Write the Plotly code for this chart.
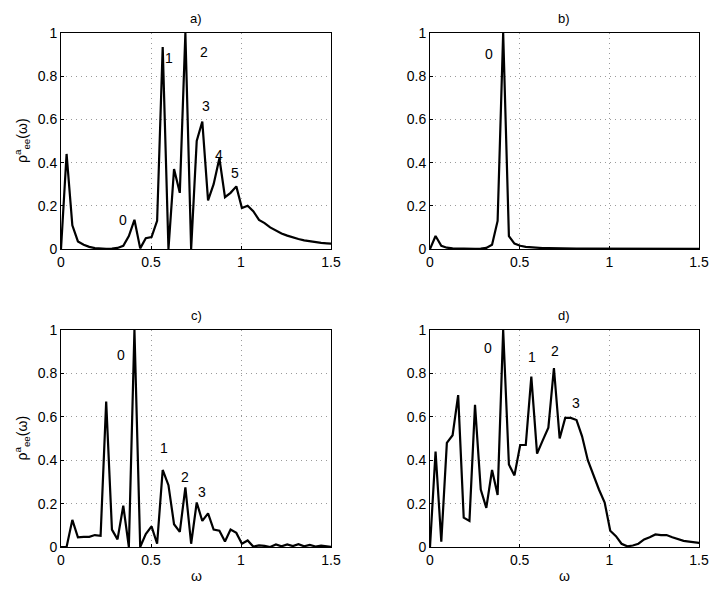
import plotly.graph_objects as go

# omega grid (same for all four panels)
omega = [0.000, 0.031, 0.063, 0.094, 0.126, 0.157, 0.188, 0.220, 0.251, 0.283,
         0.314, 0.346, 0.377, 0.408, 0.440, 0.471, 0.503, 0.534, 0.565, 0.597,
         0.628, 0.660, 0.691, 0.723, 0.754, 0.785, 0.817, 0.848, 0.880, 0.911,
         0.942, 0.974, 1.005, 1.037, 1.068, 1.100, 1.131, 1.162, 1.194, 1.225,
         1.257, 1.288, 1.319, 1.351, 1.382, 1.414, 1.445, 1.477, 1.508]

rho_a = [0.0, 0.44, 0.11, 0.035, 0.02, 0.01, 0.004, 0.002, 0.001, 0.002,
         0.005, 0.015, 0.06, 0.135, 0.003, 0.05, 0.055, 0.13, 0.935, 0.0,
         0.37, 0.26, 1.0, 0.0, 0.5, 0.59, 0.225, 0.3, 0.42, 0.24,
         0.26, 0.29, 0.19, 0.2, 0.175, 0.135, 0.12, 0.1, 0.085, 0.072,
         0.062, 0.053, 0.046, 0.04, 0.035, 0.031, 0.028, 0.026, 0.024]

rho_b = [0.0, 0.06, 0.015, 0.006, 0.003, 0.002, 0.001, 0.001, 0.001, 0.002,
         0.005, 0.02, 0.13, 1.0, 0.06, 0.025, 0.015, 0.01, 0.007, 0.005,
         0.004, 0.004, 0.003, 0.003, 0.003, 0.002, 0.002, 0.002, 0.002, 0.002,
         0.002, 0.002, 0.001, 0.001, 0.001, 0.001, 0.001, 0.001, 0.001, 0.001,
         0.001, 0.001, 0.001, 0.001, 0.001, 0.001, 0.001, 0.001, 0.001]

rho_c = [0.0, 0.0, 0.125, 0.045, 0.047, 0.047, 0.055, 0.052, 0.67, 0.08,
         0.035, 0.19, 0.0, 1.0, 0.0, 0.06, 0.095, 0.015, 0.355, 0.285,
         0.105, 0.07, 0.275, 0.015, 0.205, 0.12, 0.155, 0.08, 0.075, 0.025,
         0.08, 0.065, 0.015, 0.03, 0.002, 0.007, 0.005, 0.0, 0.012, 0.003,
         0.012, 0.004, 0.013, 0.003, 0.01, 0.002, 0.006, 0.004, 0.0]

rho_d = [0.0, 0.44, 0.025, 0.48, 0.515, 0.7, 0.135, 0.12, 0.655, 0.265,
         0.18, 0.355, 0.24, 1.0, 0.38, 0.33, 0.47, 0.47, 0.785, 0.43,
         0.49, 0.55, 0.825, 0.5, 0.595, 0.595, 0.585, 0.51, 0.4, 0.33,
         0.265, 0.205, 0.075, 0.05, 0.015, 0.003, 0.007, 0.015, 0.035, 0.045,
         0.058, 0.055, 0.055, 0.045, 0.038, 0.028, 0.025, 0.02, 0.018]

# peak labels: (text, omega, rho)
peaks_a = [("0", 0.346, 0.133), ("1", 0.60, 0.884), ("2", 0.794, 0.91),
           ("3", 0.804, 0.664), ("4", 0.878, 0.437), ("5", 0.967, 0.352)]
peaks_b = [("0", 0.329, 0.903)]
peaks_c = [("0", 0.331, 0.885), ("1", 0.571, 0.454), ("2", 0.687, 0.322),
           ("3", 0.783, 0.254)]
peaks_d = [("0", 0.321, 0.915), ("1", 0.566, 0.877), ("2", 0.698, 0.903),
           ("3", 0.813, 0.662)]

panel_titles = ["a)", "b)", "c)", "d)"]
x_ticks = [0, 0.5, 1, 1.5]
x_ticklabels = ["0", "0.5", "1", "1.5"]
y_ticks = [0, 0.2, 0.4, 0.6, 0.8, 1]
y_ticklabels = ["0", "0.2", "0.4", "0.6", "0.8", "1"]

FONT = "Liberation Sans, Arial, sans-serif"
W, H = 715, 589

# panel placement in paper coords
x_doms = [[61 / W, 331 / W], [430 / W, 699 / W]]
y_doms = [[1 - 249 / H, 1 - 33 / H], [1 - 547 / H, 1 - 330 / H]]

fig = go.Figure()
series = [rho_a, rho_b, rho_c, rho_d]
peaks = [peaks_a, peaks_b, peaks_c, peaks_d]

for i, (rho, pk) in enumerate(zip(series, peaks)):
    n = "" if i == 0 else str(i + 1)
    row, col = divmod(i, 2)
    fig.add_trace(go.Scatter(x=omega, y=rho, mode="lines",
                             line=dict(color="black", width=2.2),
                             xaxis="x" + n, yaxis="y" + n, showlegend=False,
                             cliponaxis=True))
    axis_style = dict(showline=True, linecolor="black", linewidth=1, mirror=True,
                      ticks="inside", ticklen=3, tickcolor="black",
                      showgrid=True, gridcolor="#9a9a9a", griddash="1px,4px", gridwidth=1,
                      zeroline=False, tickfont=dict(family=FONT, size=14, color="black"))
    fig.layout["xaxis" + n] = dict(axis_style, domain=x_doms[col], range=[0, 1.5],
                                   tickvals=x_ticks, ticktext=x_ticklabels,
                                   anchor="y" + n)
    fig.layout["yaxis" + n] = dict(axis_style, domain=y_doms[row], range=[0, 1],
                                   tickvals=y_ticks, ticktext=y_ticklabels,
                                   anchor="x" + n)
    for txt, px, py in pk:
        fig.add_annotation(x=px, y=py, text=txt, xref="x" + n, yref="y" + n,
                           xanchor="center", yanchor="middle", showarrow=False,
                           font=dict(family=FONT, size=14, color="black"))
    # panel title
    fig.add_annotation(x=sum(x_doms[col]) / 2, y=y_doms[row][1], xref="paper", yref="paper",
                       text=panel_titles[i], showarrow=False, xanchor="center",
                       yanchor="bottom", yshift=5,
                       font=dict(family=FONT, size=13, color="black"))

# y-axis labels on left panels
for row in range(2):
    fig.add_annotation(x=22 / W, y=sum(y_doms[row]) / 2, xref="paper", yref="paper",
                       text="ρ<sup>a</sup><sub>ee</sub>(ω)", textangle=-90, showarrow=False,
                       xanchor="center", yanchor="middle",
                       font=dict(family=FONT, size=14, color="black"))

# x-axis labels on bottom panels
for col in range(2):
    fig.add_annotation(x=sum(x_doms[col]) / 2, y=1 - 576 / H, xref="paper", yref="paper",
                       text="ω", showarrow=False, xanchor="center", yanchor="middle",
                       font=dict(family=FONT, size=14, color="black"))

fig.update_layout(width=W, height=H,
                  margin=dict(l=0, r=0, t=0, b=0, autoexpand=False),
                  paper_bgcolor="white", plot_bgcolor="white")

# drop the default page margin so the figure sits at the window corner
fig.write_html("out.html", config={"displayModeBar": False},
               post_script="document.body.style.margin='0';document.body.style.overflow='hidden';")
